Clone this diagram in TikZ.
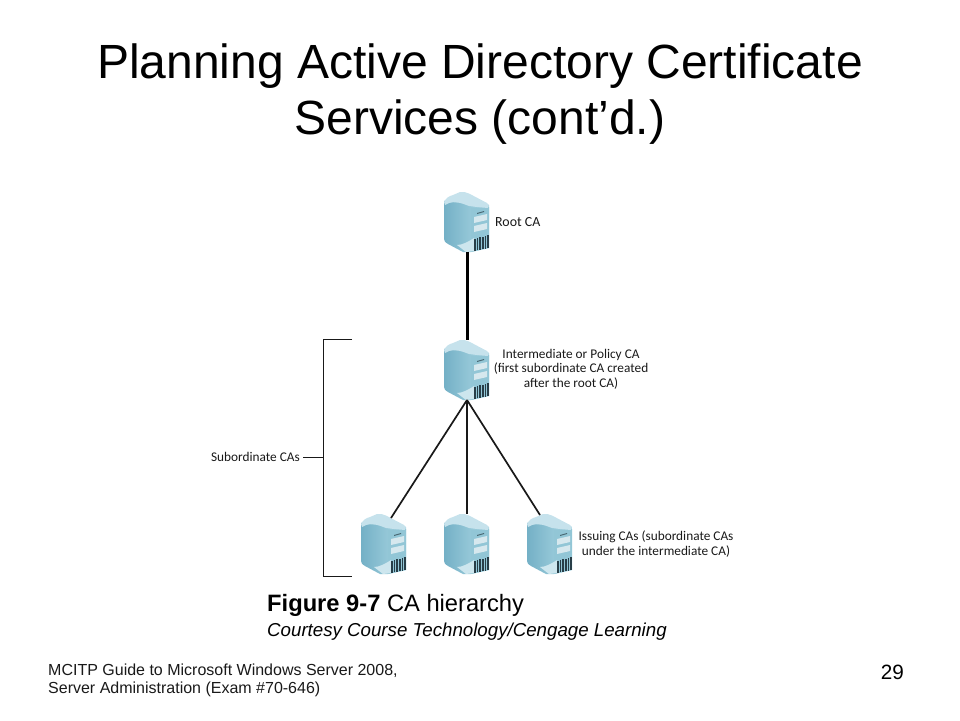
\documentclass[tikz,border=0pt]{standalone}
\usepackage{fontspec}
\setmainfont{Liberation Sans}
\newfontfamily\figfont{Carlito}
\definecolor{srvleft}{RGB}{116,176,198}
\definecolor{srvright}{RGB}{172,216,228}
\definecolor{srvpanel}{RGB}{146,198,214}
\definecolor{srvroof}{RGB}{198,226,236}
\definecolor{srvslot}{RGB}{214,232,238}
\definecolor{srvdark}{RGB}{40,62,72}
\definecolor{srvswoosh}{RGB}{205,230,238}
\tikzset{
  x=1pt,y=-1pt,
  slidetitle/.style={font=\fontsize{48}{56}\selectfont,align=center,text=black,inner sep=0},
  figlabel/.style={font=\figfont\fontsize{13.3}{14.5}\selectfont,align=center,text=black!90,inner sep=0},
  caption/.style={anchor=west,inner sep=0,text=black},
  foot/.style={anchor=west,align=left,inner sep=0,font=\fontsize{16}{18}\selectfont,text=black!90},
  link/.style={draw=black!90,line width=1.7pt},
  thicklink/.style={draw=black,line width=3pt},
  bracketline/.style={draw=black!90,line width=0.9pt},
  server/.pic={
    \shade[left color=srvleft,right color=srvright,draw=none]
      (0,9) -- (0,47) .. controls (0,49) and (1,50) .. (4,52) -- (19,60) -- (27,60) -- (45,56) -- (45,13) -- (24,2) -- cycle;
    \fill[srvpanel] (27,16) -- (45,15) -- (45,56) -- (27,60) -- cycle;
    \fill[srvroof] (0,10) .. controls (2,6) and (5,4) .. (9,3) -- (16,0) .. controls (19,-0.5) and (22,0) .. (25,1.5)
       -- (43,11) .. controls (45,12) and (45,14) .. (44,16) -- (33,15) -- (25,14) .. controls (18,11) and (10,9) .. (5,11) -- (1,13) -- cycle;
    \fill[srvslot] (30,25) -- (43,22) -- (43,28) -- (30,31) -- cycle;
    \fill[srvslot] (30,34) -- (43,31) -- (43,37) -- (30,40) -- cycle;
    \fill[srvdark!70!srvpanel] (33,21) -- (40,19) -- (40,20) -- (33,22) -- cycle;
    \fill[srvswoosh] (13,53) .. controls (18,53) and (24,50) .. (30,46) -- (30,59) -- (22,60) -- cycle;
    \foreach \gx in {31,33.6,36.2,38.8,41.4,44}{
      \fill[srvdark] (\gx-.8,{46.5-(\gx-31)*.24}) rectangle ++(1.6,12.5);
    }
    \coordinate (-top) at (23,0);
    \coordinate (-topleft) at (30,4);
    \coordinate (-topright) at (13,1);
    \coordinate (-bottom) at (23,60);
  }
}
\begin{document}
\begin{tikzpicture}
\useasboundingbox (0,0) rectangle (960,720);
\node[slidetitle] (title) at (480,94) {Planning Active Directory Certificate\\Services (cont’d.)};

\pic (root) at (444,192) {server};
\pic (inter) at (444,340) {server};
\pic (isa) at (361,514) {server};
\pic (isb) at (444,514) {server};
\pic (isc) at (527,514) {server};

\draw[thicklink] (root-bottom) -- (inter-top);
\draw[link] (inter-bottom) -- (isa-topleft);
\draw[link] (inter-bottom) -- (isb-top);
\draw[link] (inter-bottom) -- (isc-topright);

\node[figlabel,anchor=west,font=\figfont\fontsize{13.9}{15}\selectfont] (rootlabel) at (495,222.5) {Root CA};
\node[figlabel] (interlabel) at (571,369) {Intermediate or Policy CA\\(first subordinate CA created\\after the root CA)};
\node[figlabel] (issuelabel) at (656,544) {Issuing CAs (subordinate CAs\\under the intermediate CA)};
\node[figlabel,anchor=east] (sublabel) at (300,457) {Subordinate CAs};

\coordinate (brtop) at (352,339);
\coordinate (brtopc) at (323,339);
\coordinate (brbot) at (352,576);
\coordinate (brbotc) at (323,576);
\coordinate (brmid) at (323,457);
\draw[bracketline] (brtop) -- (brtopc) -- (brbotc) -- (brbot);
\draw[bracketline] (sublabel.east) ++(3,0) -- (brmid);

\node[caption,font=\fontsize{23.7}{28}\selectfont] (figcap) at (267,605) {\textbf{Figure 9-7} CA hierarchy};
\node[caption,font=\itshape\fontsize{18.7}{22}\selectfont] (courtesy) at (267,631.5) {Courtesy Course Technology/Cengage Learning};
\node[foot] (footer) at (48,680) {MCITP Guide to Microsoft Windows Server 2008,\\Server Administration (Exam \#70-646)};
\node[anchor=east,inner sep=0,font=\fontsize{20.7}{24}\selectfont] (pagenum) at (904,672) {29};
\end{tikzpicture}
\end{document}
